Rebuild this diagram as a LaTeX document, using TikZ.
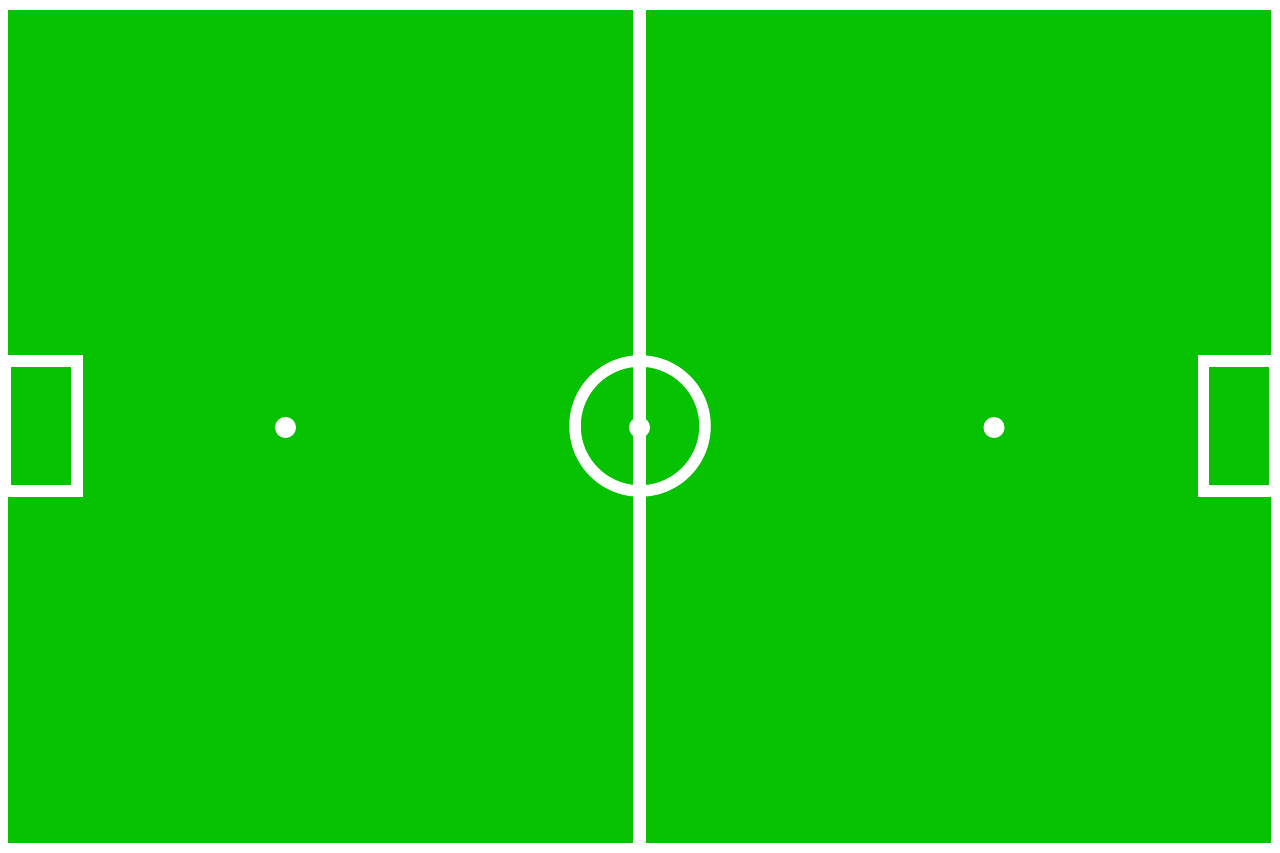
\documentclass[tikz,border=0pt]{standalone}
\definecolor{pitch}{HTML}{06C200}
\begin{document}
\begin{tikzpicture}[x=1pt,y=-1pt,
  mark line/.style={draw=white,line width=11.5pt},
  spot/.style={fill=white}]
\useasboundingbox (0,0) rectangle (1280,853);
\fill[white] (0,0) rectangle (1280,853);
% field
\fill[pitch] (8,10) rectangle (1271,843);
% halfway line
\fill[white] (633,10) rectangle (646,843);
% centre circle
\draw[mark line] (640,426) circle (65);
% goal boxes
\draw[mark line] (5.6,360.8) rectangle (77.2,491);
\draw[mark line] (1203.7,360.8) rectangle (1275,491);
% spots
\fill[spot] (285.5,427.5) circle (10.5);
\fill[spot] (994,427.5) circle (10.5);
\fill[spot] (639.5,427.5) circle (10.5);
% restore outer margin
\fill[white] (0,0) rectangle (8,853);
\fill[white] (1271,0) rectangle (1280,853);
\end{tikzpicture}
\end{document}
